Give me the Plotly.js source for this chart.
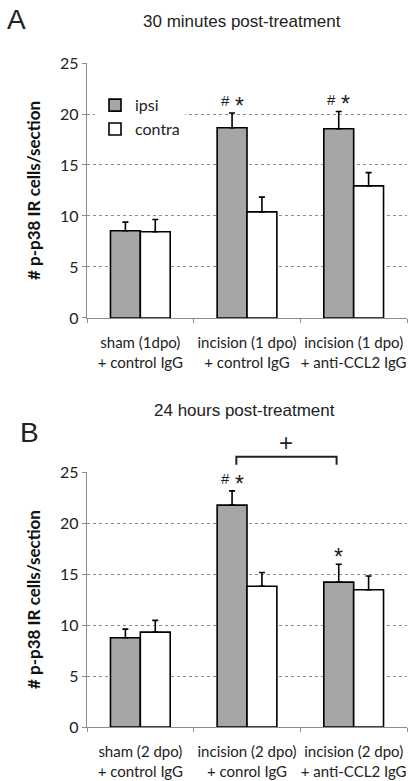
<!DOCTYPE html>
<html>
<head>
<meta charset="utf-8">
<script src="https://cdn.plot.ly/plotly-3.0.1.min.js"></script>
<style>html,body{margin:0;padding:0;background:#fff;}#chart{width:420px;height:781px;}</style>
</head>
<body>
<div id="chart"></div>
<script>
// ---- data ----
const categoriesA = ["sham (1dpo)<br>+ control IgG", "incision (1 dpo)<br>+ control IgG", "incision (1 dpo)<br>+ anti-CCL2 IgG"];
const categoriesB = ["sham (2 dpo)<br>+ control IgG", "incision (2 dpo)<br>+ conrol IgG", "incision (2 dpo)<br>+ anti-CCL2 IgG"];
const ipsiA = [8.55, 18.65, 18.55];
const ipsiErrA = [0.85, 1.45, 1.7];
const contraA = [8.45, 10.4, 12.95];
const contraErrA = [1.2, 1.45, 1.3];
const ipsiB = [8.75, 21.75, 14.2];
const ipsiErrB = [0.85, 1.4, 1.75];
const contraB = [9.3, 13.8, 13.45];
const contraErrB = [1.15, 1.35, 1.35];
const sigA = ["", "# *", "# *"];
const sigB = ["", "# *", "*"];
const yTicks = [0, 5, 10, 15, 20, 25];
const seriesNames = ["ipsi", "contra"];

const GRAY = "#a6a6a6";
const zeros = n => new Array(n).fill(0);

function barTrace(x, y, err, name, color, xa, ya, showleg) {
  return {
    type: "bar", x: x, y: y, name: name, xaxis: xa, yaxis: ya, showlegend: showleg,
    marker: {color: color, line: {color: "#000", width: 1.6}},
    error_y: {type: "data", symmetric: false, array: err, arrayminus: zeros(err.length),
              color: "#000", thickness: 1.6, width: 3},
    hoverinfo: "skip"
  };
}

const data = [
  barTrace(categoriesA, ipsiA, ipsiErrA, seriesNames[0], GRAY, "x", "y", true),
  barTrace(categoriesA, contraA, contraErrA, seriesNames[1], "#fff", "x", "y", true),
  barTrace(categoriesB, ipsiB, ipsiErrB, seriesNames[0], GRAY, "x2", "y2", false),
  barTrace(categoriesB, contraB, contraErrB, seriesNames[1], "#fff", "x2", "y2", false)
];

const tickFont = {family: "Lato, 'Open Sans', sans-serif", size: 15, color: "#222"};
const yTitle = "# p-p38 IR cells/section";

function yaxisDef(domain, anchor) {
  return {
    domain: domain, anchor: anchor, range: [0, 25], tickvals: yTicks, ticktext: yTicks.map(String),
    showgrid: true, gridcolor: "#8c8c8c", griddash: "dot", gridwidth: 1,
    zeroline: false, showline: true, linecolor: "#8c8c8c", linewidth: 1.3,
    ticks: "outside", ticklen: 4, tickcolor: "#8c8c8c", tickfont: {family: "Lato, 'Open Sans', sans-serif", size: 16, color: "#222"},
    title: {text: "<b>" + yTitle + "</b>", font: {family: "Lato, 'Open Sans', sans-serif", size: 17, color: "#111"}, standoff: 15},
    fixedrange: true
  };
}
function xaxisDef(anchor) {
  return {
    anchor: anchor, type: "category", tickson: "boundaries", showgrid: false,
    showline: true, linecolor: "#8c8c8c", linewidth: 1.3, zeroline: false,
    ticks: "outside", ticklen: 4, tickcolor: "#8c8c8c", tickfont: tickFont, tickangle: 0,
    ticklabelstandoff: 11,
    fixedrange: true
  };
}

const annotations = [];
function sigAnn(cats, vals, errs, sigs, xa, ya) {
  sigs.forEach((s, i) => {
    if (!s) return;
    const toks = s.split(" ");
    const dx = toks.length === 2 ? [-7, 7] : [0];
    toks.forEach((t, k) => {
      const isStar = t === "*";
      annotations.push({xref: xa, yref: ya, x: cats[i], y: vals[i] + errs[i], text: t, showarrow: false,
        xanchor: "center", yanchor: "middle", xshift: -15 + dx[k], yshift: isStar ? 7 : 12,
        font: {family: "Liberation Sans, Arial, sans-serif", size: isStar ? 23 : 15, color: "#222"}});
    });
  });
}
sigAnn(categoriesA, ipsiA, ipsiErrA, sigA, "x", "y");
sigAnn(categoriesB, ipsiB, ipsiErrB, sigB, "x2", "y2");

const titleFont = {family: "Liberation Sans, Arial, sans-serif", size: 17, color: "#222"};
const panelFont = {family: "Liberation Sans, Arial, sans-serif", size: 28, color: "#222"};
annotations.push(
  {xref: "paper", yref: "paper", x: -0.219, y: 1.066, text: "A", showarrow: false, xanchor: "center", yanchor: "middle", font: panelFont},
  {xref: "paper", yref: "paper", x: 0.484, y: 1.062, text: "30 minutes post-treatment", showarrow: false, xanchor: "center", yanchor: "middle", font: titleFont},
  {xref: "paper", yref: "paper", x: -0.181, y: 0.443, text: "B", showarrow: false, xanchor: "center", yanchor: "middle", font: panelFont},
  {xref: "paper", yref: "paper", x: 0.491, y: 0.476, text: "24 hours post-treatment", showarrow: false, xanchor: "center", yanchor: "middle", font: titleFont},
  {xref: "paper", yref: "paper", x: 0.621, y: 0.429, text: "+", showarrow: false, xanchor: "center", yanchor: "middle", font: {family: "Liberation Sans, Arial, sans-serif", size: 24, color: "#222"}}
);

const shapes = [{
  type: "path", xref: "x2", yref: "paper",
  path: "M 0.9,0.395 L 0.9,0.407 L 1.84,0.407 L 1.84,0.395",
  line: {color: "#222", width: 2}
}];

const layout = {
  width: 420, height: 781,
  margin: {l: 87, r: 13, t: 63, b: 54},
  paper_bgcolor: "#fff", plot_bgcolor: "#fff",
  barmode: "group", bargap: 0.44, bargroupgap: 0,
  showlegend: true,
  legend: {x: 0.025, y: 0.962, xanchor: "left", yanchor: "top", bgcolor: "#fff",
           font: {family: "Lato, 'Open Sans', sans-serif", size: 16, color: "#222"}, tracegroupgap: 0},
  xaxis: xaxisDef("y"),
  yaxis: yaxisDef([0.616, 1], "x"),
  xaxis2: xaxisDef("y2"),
  yaxis2: yaxisDef([0, 0.384], "x2"),
  annotations: annotations,
  shapes: shapes
};

Plotly.newPlot("chart", data, layout, {displayModeBar: false, staticPlot: true});
</script>
</body>
</html>
